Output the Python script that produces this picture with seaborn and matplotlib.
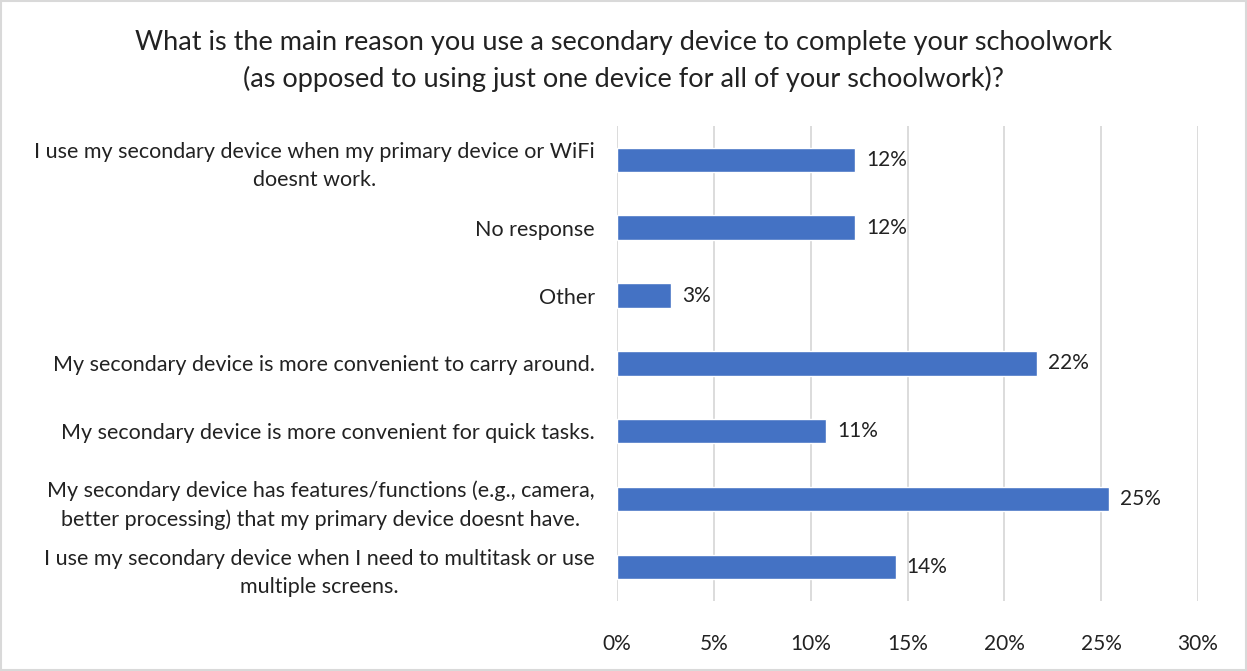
import pandas as pd
import seaborn as sns
import matplotlib.pyplot as plt
from matplotlib.ticker import PercentFormatter

# Survey responses (share of respondents, %)
reasons = [
    "I use my secondary device when my primary device or WiFi\ndoesnt work.",
    "No response",
    "Other",
    "My secondary device is more convenient to carry around.",
    "My secondary device is more convenient for quick tasks.",
    "My secondary device has features/functions (e.g., camera,\nbetter processing) that my primary device doesnt have.",
    "I use my secondary device when I need to multitask or use\nmultiple screens.",
]
shares = [12.3, 12.3, 2.8, 21.7, 10.8, 25.4, 14.4]
x_ticks = [0, 5, 10, 15, 20, 25, 30]

df = pd.DataFrame({'reason': reasons, 'share': shares})

sns.set_style('white')
plt.rcParams['font.family'] = ['Lato', 'DejaVu Sans']

fig = plt.figure(figsize=(12.47, 6.71), dpi=100)
ax = fig.add_axes([0.4948, 0.1045, 0.4659, 0.7079])

sns.barplot(data=df, x='share', y='reason', color='#4472C4', width=0.36,
            saturation=1, ax=ax)

# value labels
for p, v in zip(ax.patches, shares):
    ax.text(v + 0.55, p.get_y() + p.get_height() / 2, f"{v:.0f}%",
            va='center', ha='left', fontsize=15, color='#222222')

ax.set_xlim(0, 30)
ax.set_xticks(x_ticks)
ax.xaxis.set_major_formatter(PercentFormatter(decimals=0))
ax.grid(axis='x', color='#d9d9d9', linewidth=1.3)
ax.set_axisbelow(True)
for s in ax.spines.values():
    s.set_visible(False)
ax.set_xlabel('')
ax.set_ylabel('')
ax.tick_params(axis='x', labelsize=15, pad=24, length=0, colors='#222222')
ax.tick_params(axis='y', labelsize=15.5, pad=16, length=0, colors='#222222')
for lbl in ax.get_yticklabels():
    lbl.set_multialignment('center')
    lbl.set_linespacing(1.5)

fig.text(0.5, 0.909, "What is the main reason you use a secondary device to complete your schoolwork\n"
         "(as opposed to using just one device for all of your schoolwork)?",
         ha='center', va='center', fontsize=19.5, linespacing=1.5, color='#222222')

# light frame around the chart
fig.patches.append(plt.Rectangle((0.001, 0.001), 0.998, 0.998, transform=fig.transFigure,
                                 fill=False, edgecolor='#d9d9d9', linewidth=1.5))

fig.savefig('out.png', dpi=100)
